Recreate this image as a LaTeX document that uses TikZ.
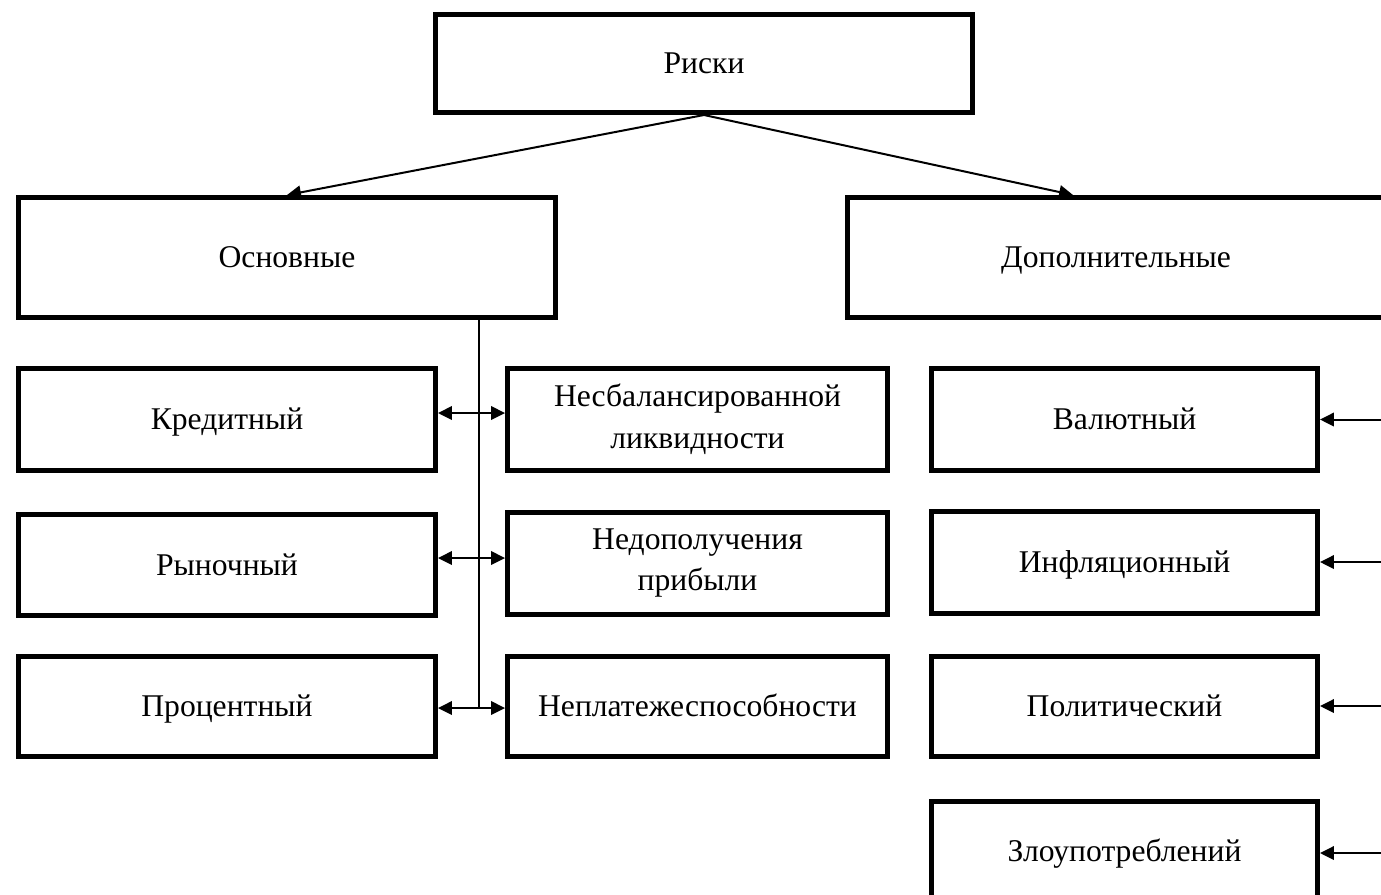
\documentclass[tikz,border=0pt]{standalone}
\usepackage{fontspec}
\setmainfont{Liberation Serif}
\usetikzlibrary{calc, arrows.meta}

\begin{document}
\begin{tikzpicture}[x=0.02cm, y=-0.02cm,
    box/.style={draw, line width=0.1cm, inner sep=0pt,
        font=\fontsize{18}{23.8}\selectfont, text height=11.6pt, text depth=0pt},
    twoline/.style={align=center, text height=, text depth=},
    link/.style={line width=0.04cm, -{Triangle[length=0.28cm, width=0.27cm]}},
    bilink/.style={line width=0.04cm,
        {Triangle[length=0.28cm, width=0.27cm]}-{Triangle[length=0.28cm, width=0.27cm]}}]
                \useasboundingbox (0,0) rectangle (1381,894);
                \node[box, minimum width=10.74cm, minimum height=1.96cm] (R) at (704,63.5) {Риски};
                \node[box, minimum width=10.74cm, minimum height=2.4cm] (M) at (287,257.5) {Основные};
                \node[box, minimum width=10.74cm, minimum height=2.4cm] (E) at (1116,257.5) {Дополнительные};
                \node[box, minimum width=8.34cm, minimum height=2.04cm] (K) at (227,419.5) {Кредитный};
                \node[box, minimum width=8.34cm, minimum height=2.02cm] (Ry) at (227,565) {Рыночный};
                \node[box, minimum width=8.34cm, minimum height=2cm] (P) at (227,706) {Процентный};
                \node[box, twoline, minimum width=7.6cm, minimum height=2.04cm] (L) at (697.5,419.5) {Несбалансированной\\ликвидности};
                \node[box, twoline, minimum width=7.6cm, minimum height=2.04cm] (N) at (697.5,563) {Недополучения\\прибыли};
                \node[box, minimum width=7.6cm, minimum height=2cm] (Np) at (697.5,706) {Неплатежеспособности};
                \node[box, minimum width=7.72cm, minimum height=2.04cm] (V) at (1124.5,419.5) {Валютный};
                \node[box, minimum width=7.72cm, minimum height=2.04cm] (I) at (1124.5,562) {Инфляционный};
                \node[box, minimum width=7.72cm, minimum height=2cm] (Po) at (1124.5,706) {Политический};
                \node[box, minimum width=7.72cm, minimum height=2cm] (Z) at (1124.5,851) {Злоупотреблений};
                \coordinate (T) at (479,708);
                \coordinate (A1) at (479,413);
                \coordinate (A2) at (479,558);
                \coordinate (B1) at (1381,419.5);
                \coordinate (B2) at (1381,562);
                \coordinate (B3) at (1381,706);
                \coordinate (B4) at (1381,853);
                \draw[link] (R.south) -- (M.north);
                \draw[link] (R.south) -- ($(E.north west)+(228,0)$);
                \draw[line width=0.04cm] (M.south -| T) -- (T);
                \draw[bilink] (K.east |- A1) -- (L.west |- A1);
                \draw[bilink] (Ry.east |- A2) -- (N.west |- A2);
                \draw[bilink] (P.east |- T) -- (Np.west |- T);
                \draw[link] (B1) -- (V.east |- B1);
                \draw[link] (B2) -- (I.east |- B2);
                \draw[link] (B3) -- (Po.east |- B3);
                \draw[link] (B4) -- (Z.east |- B4);
\end{tikzpicture}
\end{document}
